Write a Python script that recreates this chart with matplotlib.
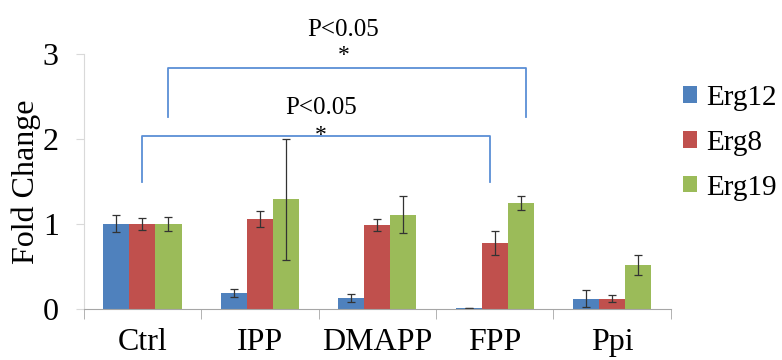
import numpy as np
import matplotlib.pyplot as plt

# data
categories = ["Ctrl", "IPP", "DMAPP", "FPP", "Ppi"]
series = ["Erg12", "Erg8", "Erg19"]
erg12 = [1.00, 0.19, 0.13, 0.01, 0.12]
erg8 = [1.00, 1.06, 0.99, 0.78, 0.12]
erg19 = [1.00, 1.29, 1.11, 1.25, 0.52]
erg12_err = [0.10, 0.05, 0.05, 0.00, 0.10]
erg8_err = [0.07, 0.09, 0.07, 0.14, 0.04]
erg19_err = [0.08, 0.71, 0.22, 0.08, 0.12]
colors = ["#4F81BD", "#C0504D", "#9BBB59"]

plt.rcParams["font.family"] = ["Liberation Serif", "DejaVu Serif"]

fig = plt.figure(figsize=(7.82, 3.60), dpi=100)
ax = fig.add_axes([0.107, 0.1417, 0.751, 0.7083])

x = np.arange(len(categories))
w = 0.222
vals = [erg12, erg8, erg19]
errs = [erg12_err, erg8_err, erg19_err]
for i in range(3):
    ax.bar(x + (i - 1) * w, vals[i], w, color=colors[i], label=series[i],
           yerr=errs[i], error_kw=dict(ecolor="#333333", elinewidth=0.9,
                                       capsize=3, capthick=0.9))

ax.set_xlim(-0.5, len(categories) - 0.5)
ax.set_ylim(0, 3)
ax.set_yticks([0, 1, 2, 3])
ax.set_xticks(x)
ax.set_xticklabels(categories, fontsize=23)
ax.tick_params(axis="x", length=0, pad=14)
ax.tick_params(axis="y", labelsize=23, length=6, color="#D9D9D9", pad=12)
ax.set_xticks(np.arange(-0.5, len(categories)), minor=True)
ax.tick_params(axis="x", which="minor", length=7, direction="out", color="#A6A6A6")
for s in ["top", "right"]:
    ax.spines[s].set_visible(False)
ax.spines["left"].set_color("#D9D9D9")
ax.spines["bottom"].set_color("#A6A6A6")
ax.set_ylabel("Fold Change", fontsize=23, labelpad=1)

# significance brackets
bc = "#5B8FD6"
x0, x1 = x[0], x[3] - 0.04
ax.plot([x0, x0, x1, x1], [1.49, 2.03, 2.03, 1.49], color=bc, lw=1.3, clip_on=False)
ax.text((x0 + x1) / 2 + 0.04, 2.23, "P<0.05", ha="center", va="bottom", fontsize=18)
ax.text((x0 + x1) / 2 + 0.04, 2.04, "*", ha="center", va="center", fontsize=17)
x0, x1 = x[0] + w, x[3] + w + 0.04
ax.plot([x0, x0, x1, x1], [2.26, 2.83, 2.83, 2.26], color=bc, lw=1.3, clip_on=False)
ax.text((x0 + x1) / 2 - 0.03, 3.15, "P<0.05", ha="center", va="bottom", fontsize=18,
        clip_on=False)
ax.text((x0 + x1) / 2 - 0.03, 2.98, "*", ha="center", va="center", fontsize=17)

ax.legend(loc="upper left", bbox_to_anchor=(1.02, 0.88), frameon=False, fontsize=21,
          handlelength=0.5, handleheight=0.5, handletextpad=0.3, labelspacing=0.65,
          borderaxespad=0, borderpad=0)

fig.savefig("out.png", dpi=100)
